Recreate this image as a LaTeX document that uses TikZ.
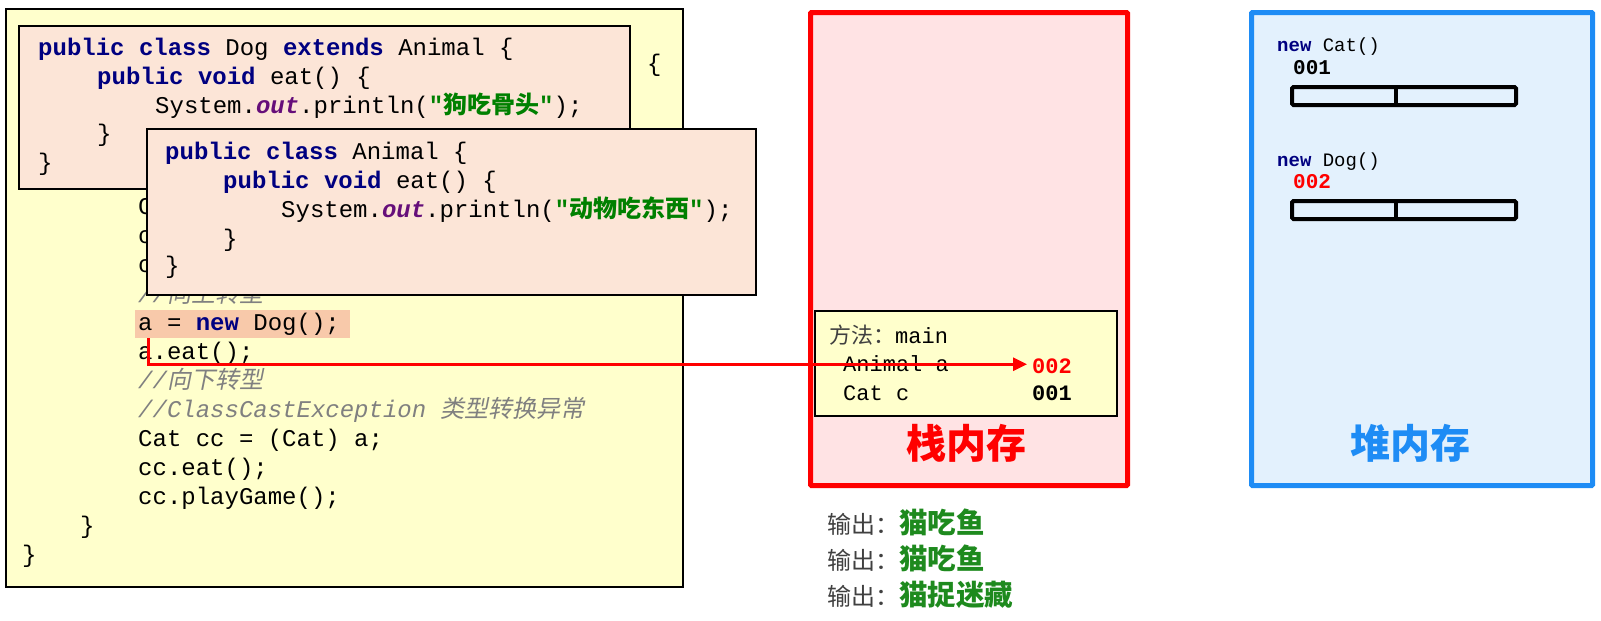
\documentclass[tikz,border=0pt]{standalone}
\usepackage{fontspec}
\setmonofont{Liberation Mono}
\newfontfamily\cjk{Noto Sans CJK SC}
\newfontfamily\cjkit[FakeSlant=0.2]{Noto Sans CJK SC}
\usetikzlibrary{arrows.meta}
\definecolor{kwblue}{HTML}{000080}
\definecolor{outpurple}{HTML}{660E7A}
\definecolor{strgreen}{HTML}{008000}
\definecolor{cmtgray}{HTML}{808080}
\definecolor{codebg}{HTML}{FFFFCC}
\definecolor{boxbg}{HTML}{FCE5D7}
\definecolor{hlbg}{HTML}{F8C9AA}
\definecolor{stackbg}{HTML}{FFE3E4}
\definecolor{heapbg}{HTML}{E3F1FD}
\definecolor{heapblue}{HTML}{1E8CF5}
\definecolor{outgray}{HTML}{404040}
\definecolor{outgreen}{HTML}{1E8A1E}
\newcommand\kw[1]{\textcolor{kwblue}{\bfseries #1}}
\newcommand\outf{\textcolor{outpurple}{\bfseries\itshape out}}
\newcommand\strg[1]{\textcolor{strgreen}{\bfseries #1}}
\newcommand\cmt[1]{\textcolor{cmtgray}{\itshape #1}}
\newcommand\outline[1]{\textcolor{outgray}{输出：}\textcolor{outgreen}{\bfseries\fontsize{28.5}{30}\selectfont #1}}
\begin{document}
\begin{tikzpicture}[x=1pt,y=-1pt,
  code/.style={anchor=base west, inner sep=0pt, font=\ttfamily\fontsize{24}{29}\selectfont},
  outerbox/.style={draw=black, line width=2pt, fill=codebg, anchor=north west, inner sep=0pt},
  classbox/.style={draw=black, line width=2pt, fill=boxbg, anchor=north west, inner sep=0pt},
  hlbox/.style={fill=hlbg, anchor=north west, inner sep=0pt},
  stackbox/.style={draw=red, line width=5pt, fill=stackbg, anchor=north west, inner sep=0pt, rounded corners=1pt},
  heapbox/.style={draw=heapblue, line width=5pt, fill=heapbg, anchor=north west, inner sep=0pt, rounded corners=1pt},
  framebox/.style={draw=black, line width=2pt, fill=codebg, anchor=north west, inner sep=0pt},
  stk/.style={anchor=base west, inner sep=0pt, font=\ttfamily\fontsize{22}{26}\selectfont},
  heaptxt/.style={anchor=base west, inner sep=0pt, font=\ttfamily\fontsize{19}{22}\selectfont},
  heapnum/.style={anchor=base west, inner sep=0pt, font=\ttfamily\bfseries\fontsize{21}{24}\selectfont},
  bar/.style={draw=black, line width=4pt, fill=heapbg, anchor=north west, inner sep=0pt, rounded corners=1.5pt},
  bigl/.style={font=\cjk\bfseries\fontsize{40}{44}\selectfont, inner sep=0pt},
  outl/.style={anchor=base west, inner sep=0pt, font=\cjk\fontsize{24}{28}\selectfont},
  refarrow/.style={draw=red, line width=3pt, -{Triangle[length=14pt,width=13pt]}}
]
\useasboundingbox (0,0) rectangle (1601,621);

% ---------- outer code box ----------
\node[outerbox, minimum width=677pt, minimum height=578pt] (outer) at (5,8) {};
\node[code] (m0) at (647,71) {\{};
\node[code] (m1) at (138,214) {C};
\node[code] (m2) at (138,243) {c};
\node[code] (m3) at (138,272) {c};
\node[code] (m4) at (138,302) {\cmt{//{\cjkit 向上转型}}};
\node[hlbox, minimum width=215pt, minimum height=28pt] (hl) at (135,310) {};
\node[code] (m5) at (138,330) {a = \kw{new} Dog();};
\node[code] (m6) at (138,359) {a.eat();};
\node[code] (m7) at (138,388) {\cmt{//{\cjkit 向下转型}}};
\node[code] (m8) at (138,417) {\cmt{//ClassCastException {\cjkit 类型转换异常}}};
\node[code] (m9) at (138,446) {Cat cc = (Cat) a;};
\node[code] (m10) at (138,475) {cc.eat();};
\node[code] (m11) at (138,504) {cc.playGame();};
\node[code] (m12) at (80,533) {\}};
\node[code] (m13) at (22,562) {\}};

% ---------- Dog class box ----------
\node[classbox, minimum width=611pt, minimum height=163pt] (dog) at (18,25) {};
\node[code] (d1) at (38,55) {\kw{public class} Dog \kw{extends} Animal \{};
\node[code] (d2) at (97,84) {\kw{public void} eat() \{};
\node[code] (d3) at (155,113) {System.\outf.println(\strg{"{\cjk 狗吃骨头}"});};
\node[code] (d4) at (97,141) {\}};
\node[code] (d5) at (38,170) {\}};

% ---------- Animal class box ----------
\node[classbox, minimum width=609pt, minimum height=166pt] (animal) at (146,128) {};
\node[code] (a1) at (165,159) {\kw{public class} Animal \{};
\node[code] (a2) at (223,188) {\kw{public void} eat() \{};
\node[code] (a3) at (281,217) {System.\outf.println(\strg{"{\cjk 动物吃东西}"});};
\node[code] (a4) at (223,246) {\}};
\node[code] (a5) at (165,273) {\}};

% ---------- stack ----------
\node[stackbox, minimum width=317pt, minimum height=473pt] (stack) at (808,10) {};
\node[framebox, minimum width=302pt, minimum height=105pt] (frame) at (814,310) {};
\node[stk] (fm) at (829,343) {\textcolor{outgray}{\cjk 方法：}main};
\node[stk] (va) at (843,371) {Animal a};
\node[stk] (vc) at (843,400) {Cat c};
\node[stk, text=red] (n002) at (1032,373) {\bfseries 002};
\node[stk] (n001) at (1032,400) {\bfseries 001};
\node[bigl, text=red] (stacklbl) at (966,443) {栈内存};

% ---------- heap ----------
\node[heapbox, minimum width=341pt, minimum height=473pt] (heap) at (1249,10) {};
\node[heaptxt] (hc) at (1277,51) {\kw{new} Cat()};
\node[heapnum] (h001) at (1293,74) {001};
\node[bar, minimum width=224pt, minimum height=18pt] (bar1) at (1290,85) {};
\draw[line width=4pt] (bar1.north) ++(-8pt,0) -- ++(0,-18pt);
\node[heaptxt] (hd) at (1277,166) {\kw{new} Dog()};
\node[heapnum, text=red] (h002) at (1293,188) {002};
\node[bar, minimum width=224pt, minimum height=18pt] (bar2) at (1290,199) {};
\draw[line width=4pt] (bar2.north) ++(-8pt,0) -- ++(0,-18pt);
\node[bigl, text=heapblue] (heaplbl) at (1410,443) {堆内存};

% ---------- outputs ----------
\node[outl] (o1) at (827,533) {\outline{猫吃鱼}};
\node[outl] (o2) at (827,569) {\outline{猫吃鱼}};
\node[outl] (o3) at (827,605) {\outline{猫捉迷藏}};

% ---------- reference arrow ----------
\draw[refarrow] ([xshift=13pt]hl.south west) |- ([xshift=-5pt,yshift=1.5pt]n002.west);
\end{tikzpicture}
\end{document}
